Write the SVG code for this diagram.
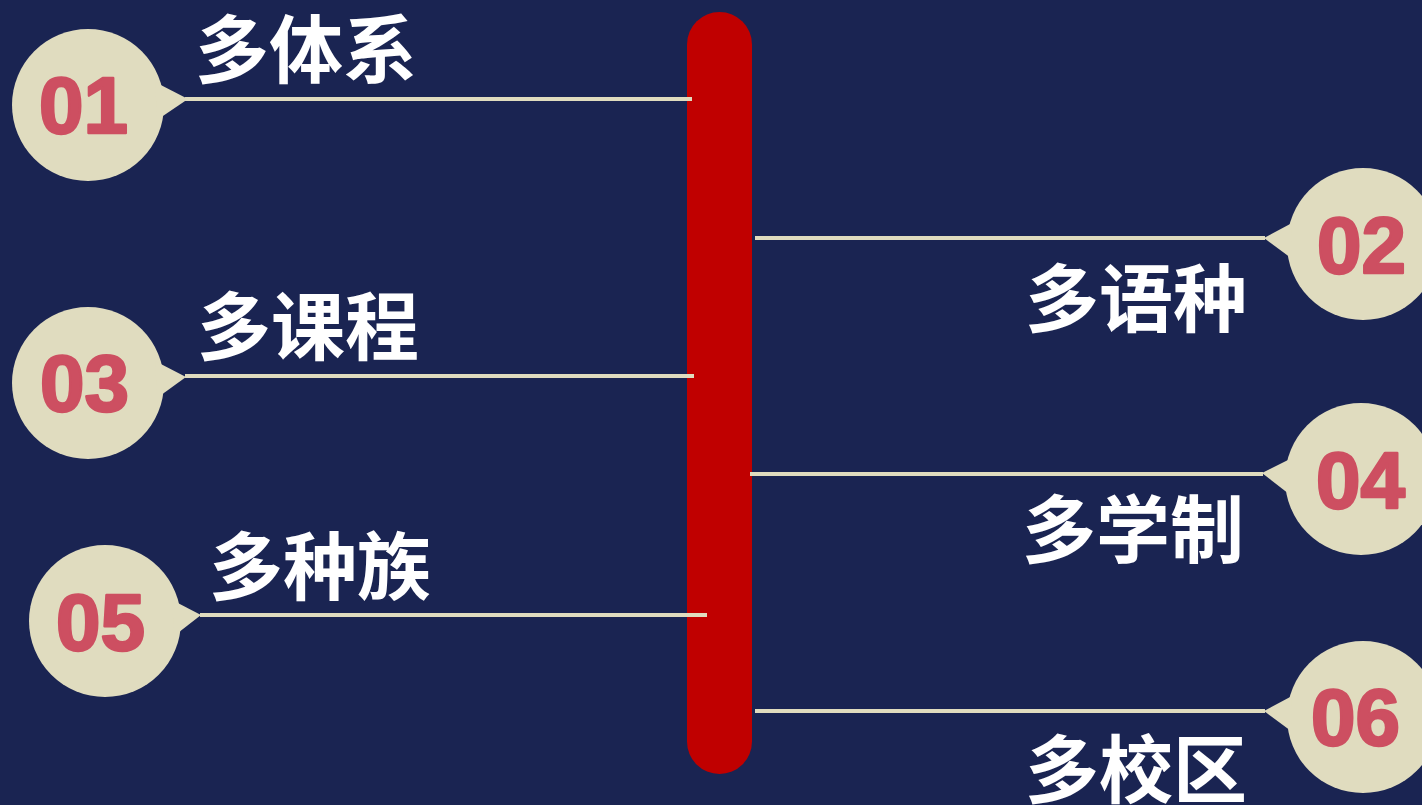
<svg xmlns="http://www.w3.org/2000/svg" width="1422" height="805" viewBox="0 0 1422 805">
<style>
.bg{fill:#1A2452}
.bar{fill:#C00000}
.bub{fill:#E0DCBF}
.ln{stroke:#E0DCBF;stroke-width:4;fill:none}
.num{fill:#CD4F61;stroke:#CD4F61;stroke-width:2.5;stroke-linejoin:round;font-family:"Liberation Sans",Arial,sans-serif;font-weight:bold;font-size:80px}
.lbl{fill:#FFFFFF;font-family:"Noto Sans CJK SC",sans-serif;font-weight:bold;font-size:74px}
</style>
<rect class="bg" x="0" y="0" width="1422" height="805"/>
<g id="spine"><rect class="bar" x="687" y="12" width="65" height="762" rx="32.5" ry="32.5"/></g>
<g id="connectors">
<line class="ln" x1="185" y1="99" x2="692" y2="99"/>
<line class="ln" x1="185" y1="376" x2="694" y2="376"/>
<line class="ln" x1="200" y1="615" x2="707" y2="615"/>
<line class="ln" x1="755" y1="238" x2="1265" y2="238"/>
<line class="ln" x1="750" y1="474" x2="1263" y2="474"/>
<line class="ln" x1="755" y1="711" x2="1265" y2="711"/>
</g>
<g id="node01">
<circle class="bub" cx="88" cy="105" r="76"/>
<polygon class="bub" points="155,82 188,99 157,120"/>
<text class="num" x="39" y="133">01</text>
<text class="lbl" x="195" y="77">多体系</text>
</g>
<g id="node03">
<circle class="bub" cx="88" cy="383" r="76"/>
<polygon class="bub" points="155,361 186,377 157,398"/>
<text class="num" x="40" y="411">03</text>
<text class="lbl" x="197" y="354">多课程</text>
</g>
<g id="node05">
<circle class="bub" cx="105" cy="621" r="76"/>
<polygon class="bub" points="172,600 201,615 174,636"/>
<text class="num" x="56" y="650">05</text>
<text class="lbl" x="209" y="594">多种族</text>
</g>
<g id="node02">
<circle class="bub" cx="1363" cy="244" r="76"/>
<polygon class="bub" points="1292,223 1264,238 1291,258"/>
<text class="num" x="1317" y="273">02</text>
<text class="lbl" x="1025" y="326">多语种</text>
</g>
<g id="node04">
<circle class="bub" cx="1361" cy="479" r="76"/>
<polygon class="bub" points="1290,459 1262,473 1289,494"/>
<text class="num" x="1316" y="508">04</text>
<text class="lbl" x="1022" y="557">多学制</text>
</g>
<g id="node06">
<circle class="bub" cx="1363" cy="717" r="76"/>
<polygon class="bub" points="1292,696 1264,711 1291,731"/>
<text class="num" x="1311" y="745">06</text>
<text class="lbl" x="1025" y="797">多校区</text>
</g>
</svg>
